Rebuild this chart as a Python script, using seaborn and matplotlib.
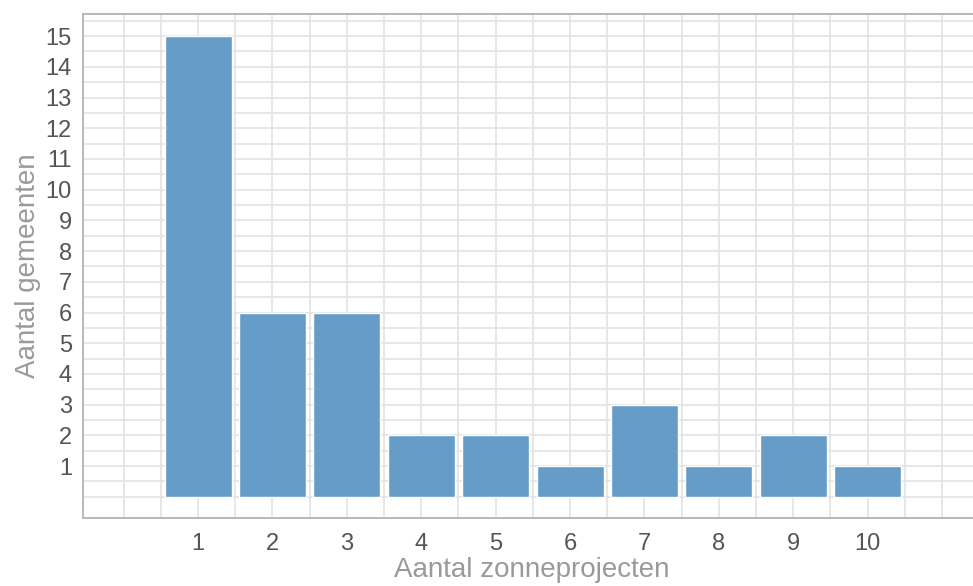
import numpy as np
import pandas as pd
import matplotlib
matplotlib.use("Agg")
import matplotlib.pyplot as plt
import seaborn as sns

projecten = [1, 2, 3, 4, 5, 6, 7, 8, 9, 10]
gemeenten = [15, 6, 6, 2, 2, 1, 3, 1, 2, 1]
y_ticks = list(range(1, 16))
x_ticks = list(range(1, 11))

df = pd.DataFrame({"projecten": projecten, "gemeenten": gemeenten})

sns.set_style("white")
plt.rcParams["font.family"] = ["Liberation Sans", "DejaVu Sans"]

fig = plt.figure(figsize=(9.73, 5.86), dpi=100)
ax = fig.add_axes([83 / 973, 1 - 518 / 586, (980 - 83) / 973, (518 - 14) / 586])

sns.barplot(data=df, x="projecten", y="gemeenten", native_scale=True,
            width=0.9, color="#659dc8", saturation=1, ax=ax, zorder=3)

ax.set_xlim(-0.546, -0.546 + (980 - 83) / 74.4)
ax.set_ylim(-0.69, 15.72)

ax.set_xticks(x_ticks)
ax.set_xticklabels([str(v) for v in x_ticks])
ax.set_yticks(y_ticks)
ax.set_yticklabels([str(v) for v in y_ticks])
ax.set_xticks(np.arange(0, 11.01, 0.5), minor=True)
ax.set_yticks(np.arange(0, 15.51, 0.5), minor=True)

ax.grid(True, which="both", color="#e3e3e3", linewidth=1.2, zorder=0)
ax.set_axisbelow(True)

ax.tick_params(axis="both", which="major", length=4, width=1, color="#b3b3b3",
               labelsize=17, labelcolor="#555555", pad=4)
ax.tick_params(axis="x", which="major", pad=7)
ax.tick_params(axis="both", which="minor", length=0)

for s in ["left", "bottom", "top"]:
    ax.spines[s].set_color("#b8b8b8")
    ax.spines[s].set_linewidth(1.4)
ax.spines["right"].set_visible(False)

ax.set_xlabel("Aantal zonneprojecten", fontsize=20, color="#9a9a9a", labelpad=1)
ax.set_ylabel("Aantal gemeenten", fontsize=20, color="#9a9a9a", labelpad=3)

fig.savefig("out.png", dpi=100)
